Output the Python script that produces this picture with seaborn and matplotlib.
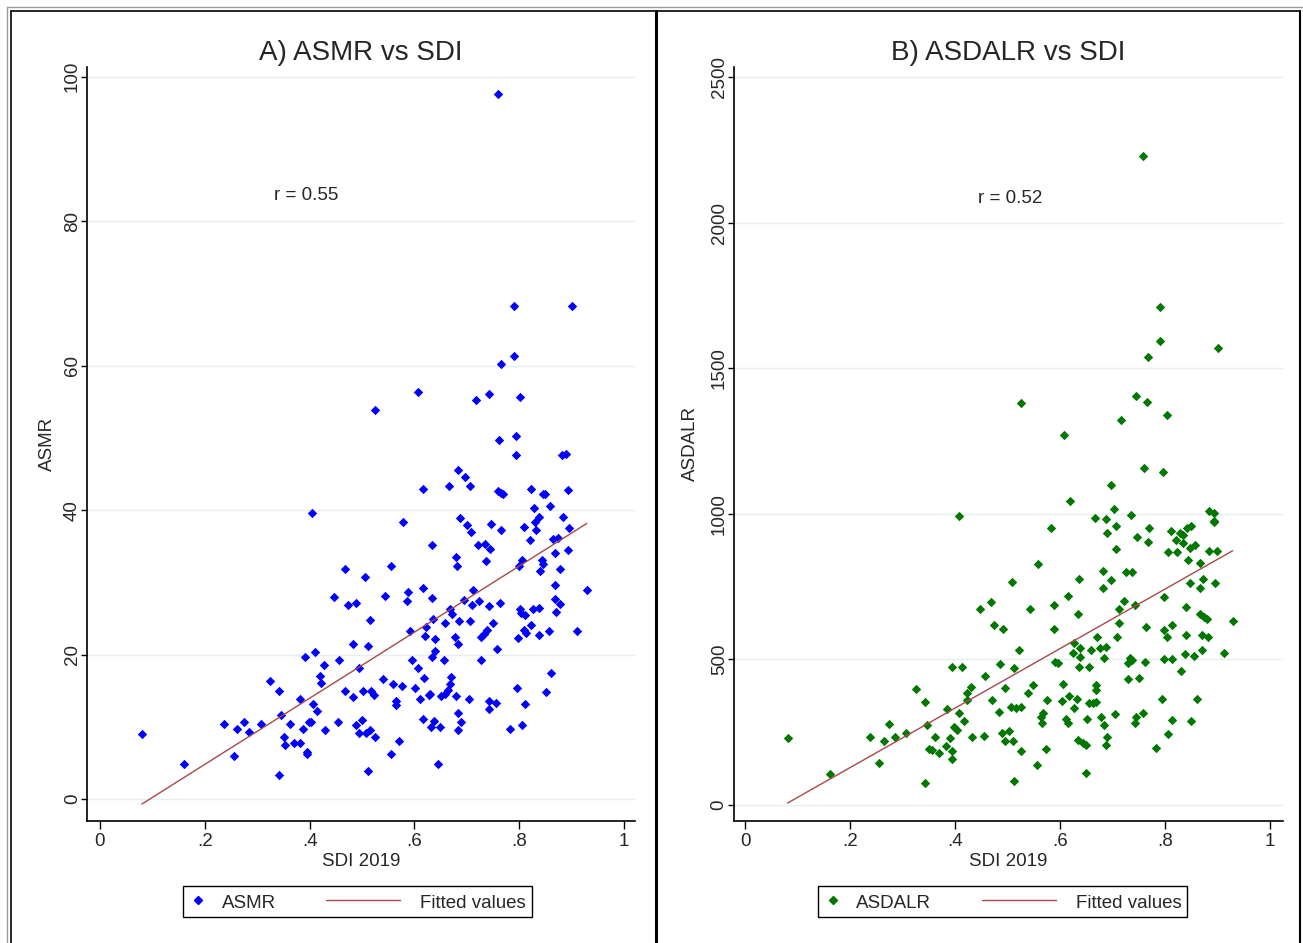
import matplotlib
matplotlib.use("Agg")
import matplotlib.pyplot as plt
import numpy as np
import pandas as pd
import seaborn as sns
from matplotlib.lines import Line2D
from matplotlib.legend_handler import HandlerLine2D

# ---- panel A data (SDI 2019 vs ASMR) ----
sdi_a = [0.080, 0.161, 0.236, 0.261, 0.274, 0.284, 0.307, 0.256, 0.324, 0.342,
         0.342, 0.346, 0.352, 0.354, 0.362, 0.370, 0.382, 0.382, 0.387, 0.392,
         0.395, 0.395, 0.398, 0.402, 0.407, 0.410, 0.415, 0.419, 0.421, 0.427,
         0.430, 0.447, 0.455, 0.457, 0.468, 0.468, 0.474, 0.483, 0.483, 0.488,
         0.488, 0.495, 0.495, 0.500, 0.505, 0.502, 0.511, 0.508, 0.512, 0.515,
         0.405,
         0.578, 0.701, 0.708, 0.747, 0.765, 0.809, 0.833, 0.821, 0.896, 0.634,
         0.721, 0.735, 0.745, 0.679, 0.682, 0.737, 0.555, 0.805, 0.800, 0.843,
         0.845, 0.840, 0.865, 0.874, 0.868, 0.894, 0.878, 0.868, 0.868, 0.878,
         0.871, 0.929, 0.911, 0.856, 0.838, 0.813, 0.797, 0.823, 0.810, 0.827,
         0.838, 0.802, 0.803, 0.812, 0.861, 0.851, 0.795, 0.812, 0.805, 0.782,
         0.757, 0.750, 0.738, 0.733, 0.728, 0.727, 0.763, 0.742, 0.723, 0.712,
         0.710, 0.707, 0.694, 0.686, 0.677, 0.684, 0.672, 0.668, 0.659, 0.636,
         0.634, 0.616, 0.588, 0.586, 0.543, 0.591, 0.623, 0.621, 0.639, 0.640,
         0.634, 0.656, 0.596, 0.606, 0.619, 0.601, 0.611, 0.627, 0.630, 0.651,
         0.658, 0.665, 0.668, 0.669, 0.679, 0.704, 0.742, 0.743, 0.755, 0.684,
         0.689, 0.684, 0.616, 0.637, 0.631, 0.649, 0.646, 0.571, 0.556, 0.525,
         0.516, 0.518, 0.523, 0.541, 0.560, 0.576, 0.565, 0.565,
         0.790, 0.901, 0.790, 0.765, 0.606, 0.742, 0.717, 0.801, 0.525, 0.762,
         0.793, 0.793, 0.882, 0.889, 0.684, 0.697, 0.616, 0.666, 0.707, 0.759,
         0.765, 0.770, 0.823, 0.845, 0.850, 0.893, 0.828, 0.858, 0.687, 0.884,
         0.838, 0.831, 0.760]
asmr = [9.0, 4.8, 10.4, 9.7, 10.6, 9.3, 10.4, 5.9, 16.4, 14.9,
        3.3, 11.6, 8.6, 7.5, 10.4, 7.7, 13.8, 7.8, 9.7, 19.6,
        6.5, 6.2, 10.6, 10.6, 13.2, 20.3, 12.2, 17.0, 16.0, 18.6,
        9.5, 27.9, 10.6, 19.2, 31.9, 14.9, 26.8, 14.1, 21.5, 27.2,
        10.3, 18.1, 9.2, 10.9, 30.7, 14.9, 21.2, 9.2, 3.9, 24.8,
        39.6,
        38.3, 38.0, 36.9, 38.1, 37.2, 37.6, 37.2, 35.9, 37.5, 35.1,
        35.1, 35.3, 34.6, 33.5, 32.3, 33.0, 32.2, 33.1, 32.2, 33.1,
        32.5, 31.6, 36.0, 36.2, 34.1, 34.5, 31.8, 29.6, 27.7, 27.0,
        25.9, 28.9, 23.2, 23.2, 22.7, 23.0, 22.3, 24.1, 23.4, 26.3,
        26.5, 26.3, 25.7, 25.5, 17.5, 14.8, 15.3, 13.1, 10.2, 9.7,
        20.8, 24.3, 23.4, 22.8, 22.4, 19.2, 27.2, 26.7, 27.4, 28.9,
        26.8, 24.7, 27.6, 24.7, 22.4, 21.4, 25.6, 26.3, 24.3, 24.9,
        27.8, 29.2, 28.7, 27.4, 28.1, 23.2, 23.8, 22.5, 22.1, 20.5,
        19.7, 19.2, 19.2, 18.1, 16.8, 15.4, 13.8, 14.4, 14.6, 14.3,
        14.6, 15.1, 15.9, 16.9, 14.3, 13.8, 13.5, 12.4, 13.3, 11.9,
        10.6, 9.6, 11.1, 10.8, 9.9, 10.0, 4.9, 8.0, 6.2, 8.6,
        9.6, 14.9, 14.4, 16.6, 15.9, 15.7, 13.5, 13.0,
        68.3, 68.3, 61.4, 60.3, 56.4, 56.1, 55.2, 55.7, 53.9, 49.7,
        50.2, 47.7, 47.7, 47.8, 45.5, 44.6, 42.9, 43.3, 43.3, 42.6,
        42.4, 42.2, 42.9, 42.2, 42.2, 42.8, 40.3, 40.5, 38.9, 39.1,
        39.0, 38.3, 97.6]

# ---- panel B data (SDI 2019 vs ASDALR) ----
sdi_b = [0.081, 0.161, 0.239, 0.264, 0.274, 0.285, 0.307, 0.256, 0.325, 0.343,
         0.343, 0.347, 0.362, 0.351, 0.356, 0.370, 0.382, 0.385, 0.390, 0.395,
         0.413, 0.395, 0.395, 0.398, 0.404, 0.407, 0.418, 0.423, 0.423, 0.430,
         0.433, 0.448, 0.468, 0.455, 0.458, 0.475, 0.491, 0.486, 0.470, 0.483,
         0.496, 0.490, 0.503, 0.496, 0.508, 0.512, 0.506, 0.513, 0.408,
         0.582, 0.690, 0.707, 0.770, 0.746, 0.768, 0.812, 0.829, 0.834, 0.842,
         0.850, 0.821, 0.834, 0.894, 0.707, 0.805, 0.823, 0.848, 0.858, 0.883,
         0.899, 0.843, 0.867, 0.559, 0.637, 0.682, 0.725, 0.738, 0.698, 0.682,
         0.848, 0.873, 0.867, 0.896, 0.929, 0.616, 0.589, 0.543, 0.634, 0.722,
         0.712, 0.742, 0.799, 0.840, 0.867, 0.874, 0.880, 0.712, 0.764, 0.813,
         0.799, 0.803, 0.840, 0.870, 0.881, 0.589, 0.671, 0.709, 0.626, 0.639,
         0.659, 0.677, 0.688, 0.684, 0.624, 0.639, 0.521, 0.591, 0.597, 0.637,
         0.656, 0.734, 0.737, 0.730, 0.761, 0.798, 0.813, 0.838, 0.856, 0.871,
         0.913, 0.831, 0.549, 0.539, 0.606, 0.516, 0.526, 0.576, 0.604, 0.618,
         0.632, 0.627, 0.655, 0.669, 0.669, 0.669, 0.663, 0.704, 0.679, 0.684,
         0.651, 0.611, 0.616, 0.568, 0.564, 0.566, 0.510, 0.526, 0.574, 0.556,
         0.650, 0.634, 0.644, 0.650, 0.690, 0.687, 0.742, 0.745, 0.758, 0.795,
         0.861, 0.813, 0.850, 0.805, 0.782, 0.730, 0.750,
         0.791, 0.791, 0.901, 0.768, 0.526, 0.745, 0.765, 0.803, 0.717, 0.607,
         0.760, 0.796, 0.697, 0.619, 0.702, 0.735, 0.667, 0.687, 0.883, 0.893,
         0.894, 0.759]
asdalr = [229, 106, 234, 220, 279, 234, 248, 143, 397, 355,
          75, 276, 234, 193, 189, 180, 203, 329, 229, 474,
          474, 185, 157, 267, 258, 315, 288, 360, 384, 406,
          234, 673, 696, 237, 443, 619, 605, 483, 361, 319,
          401, 248, 253, 220, 765, 469, 338, 84, 993,
          950, 935, 959, 950, 919, 903, 941, 933, 927, 950,
          959, 910, 899, 973, 878, 868, 868, 881, 892, 872,
          872, 840, 831, 827, 776, 804, 799, 799, 773, 744,
          763, 776, 744, 763, 633, 718, 686, 673, 655, 701,
          673, 687, 713, 681, 655, 647, 640, 624, 610, 619,
          601, 576, 583, 583, 578, 605, 578, 578, 555, 538,
          532, 538, 543, 506, 523, 509, 532, 492, 487, 475,
          475, 506, 498, 487, 492, 502, 500, 520, 512, 533,
          523, 460, 411, 384, 416, 332, 338, 360, 356, 375,
          365, 332, 349, 355, 412, 395, 351, 311, 302, 276,
          295, 295, 281, 317, 303, 281, 219, 184, 192, 137,
          111, 223, 214, 206, 235, 206, 281, 303, 316, 365,
          365, 292, 288, 243, 197, 433, 437,
          1711, 1593, 1570, 1538, 1380, 1403, 1385, 1339, 1322, 1272,
          1158, 1145, 1100, 1044, 1016, 995, 986, 981, 1011, 1002,
          976, 2229]

sdi_ticks = [0, 0.2, 0.4, 0.6, 0.8, 1]
sdi_labels = ["0", ".2", ".4", ".6", ".8", "1"]
asmr_ticks = [0, 20, 40, 60, 80, 100]
asdalr_ticks = [0, 500, 1000, 1500, 2000, 2500]

FIT = "#a8494a"
GRID = "#e6eef0"

sns.set_style("white")
plt.rcParams["font.family"] = ["Liberation Sans", "DejaVu Sans"]

W, H = 1303, 943
fig = plt.figure(figsize=(W / 100, H / 100), dpi=100)


class LongLine(HandlerLine2D):
    # stretch the fitted-line handle to the left, like the Stata key
    def create_artists(self, legend, orig_handle, xdescent, ydescent,
                       width, height, fontsize, trans):
        arts = super().create_artists(legend, orig_handle, xdescent, ydescent,
                                      width, height, fontsize, trans)
        for a in arts:
            x = a.get_xdata()
            a.set_xdata(np.linspace(x[0] - 3.25 * fontsize, x[-1] - 0.3 * fontsize, 3))
        return arts


def panel(rect, x, y, color, name, title, yticks, ylim, xlim, rtext, rpos,
          ylab_x, leg_x):
    ax = fig.add_axes(rect)
    df = pd.DataFrame({"SDI 2019": x, name: y})
    for t in yticks:
        ax.axhline(t, color=GRID, lw=1, zorder=0)
    sns.scatterplot(data=df, x="SDI 2019", y=name, ax=ax, color=color,
                    marker="D", s=23, linewidth=0, legend=False, zorder=3)
    sns.regplot(data=df, x="SDI 2019", y=name, ax=ax, scatter=False, ci=None,
                color=FIT, line_kws=dict(lw=1, zorder=4))
    ax.set_xlim(*xlim)
    ax.set_ylim(*ylim)
    ax.set_xticks(sdi_ticks)
    ax.set_xticklabels(sdi_labels)
    ax.set_yticks(yticks)
    ax.set_yticklabels([str(t) for t in yticks], rotation=90, va="center")
    ax.tick_params(axis="x", direction="out", length=5.5, width=1, pad=3,
                   labelsize=13.5, bottom=True, color="black")
    ax.tick_params(axis="y", direction="out", length=4, width=1, pad=0.5,
                   labelsize=13.5, left=True, color="black")
    for s in ["top", "right"]:
        ax.spines[s].set_visible(False)
    for s in ["left", "bottom"]:
        ax.spines[s].set_color("black")
        ax.spines[s].set_linewidth(1.2)
    ax.set_xlabel("SDI 2019", fontsize=13.5, labelpad=2)
    ax.set_ylabel(name, fontsize=13.5)
    ax.yaxis.set_label_coords(ylab_x, 0.5)
    ax.set_title(title, fontsize=20, pad=5)
    ax.text(rpos[0], rpos[1], rtext, ha="center", va="center", fontsize=13.5)

    h1 = Line2D([], [], marker="D", color=color, ls="none", markersize=4.5)
    h2 = Line2D([], [], color=FIT, lw=1)
    leg = ax.legend([h1, h2], [name, "Fitted values"], ncol=2,
                    handler_map={h2: LongLine()},
                    loc="center left", bbox_to_anchor=(leg_x, 1 - 901.5 / H),
                    bbox_transform=fig.transFigure, borderaxespad=0,
                    fontsize=13.5, handlelength=1.0, handleheight=1.3,
                    handletextpad=0.76, columnspacing=5.95, borderpad=0.3,
                    fancybox=False, framealpha=1, edgecolor="black")
    leg.get_frame().set_linewidth(1)
    return ax


bottom = 1 - 821 / H
height = (821 - 66.7) / H
panel([87 / W, bottom, 548 / W, height], sdi_a, asmr, "#0000ff", "ASMR",
      "A) ASMR vs SDI", asmr_ticks, (-3.05, 101.4), (-0.0248, 1.021),
      "r = 0.55", (0.393, 83.6), -0.056, 183 / W)
panel([734 / W, bottom, 549 / W, height], sdi_b, asdalr, "#007800", "ASDALR",
      "B) ASDALR vs SDI", asdalr_ticks, (-55, 2535), (-0.021, 1.0248),
      "r = 0.52", (0.505, 2084), -0.064, 817.6 / W)

# panel frames (two graphs placed side by side)
def fline(x0, y0, x1, y1, **kw):
    fig.add_artist(Line2D([x0 / W, x1 / W], [1 - y0 / H, 1 - y1 / H],
                          transform=fig.transFigure, **kw))

fline(7, 7, W, 7, color="#9a9a9a", lw=1)
fline(7, 7, 7, H, color="#9a9a9a", lw=1)
fline(10.5, 11, 1300, 11, color="black", lw=1.2)
fline(10.5, 11, 10.5, H, color="black", lw=1.2)
fline(656, 11, 656, H, color="black", lw=2.2)
fline(1300, 11, 1300, H, color="black", lw=1.5)

fig.savefig("out.png", dpi=100, facecolor="white")
